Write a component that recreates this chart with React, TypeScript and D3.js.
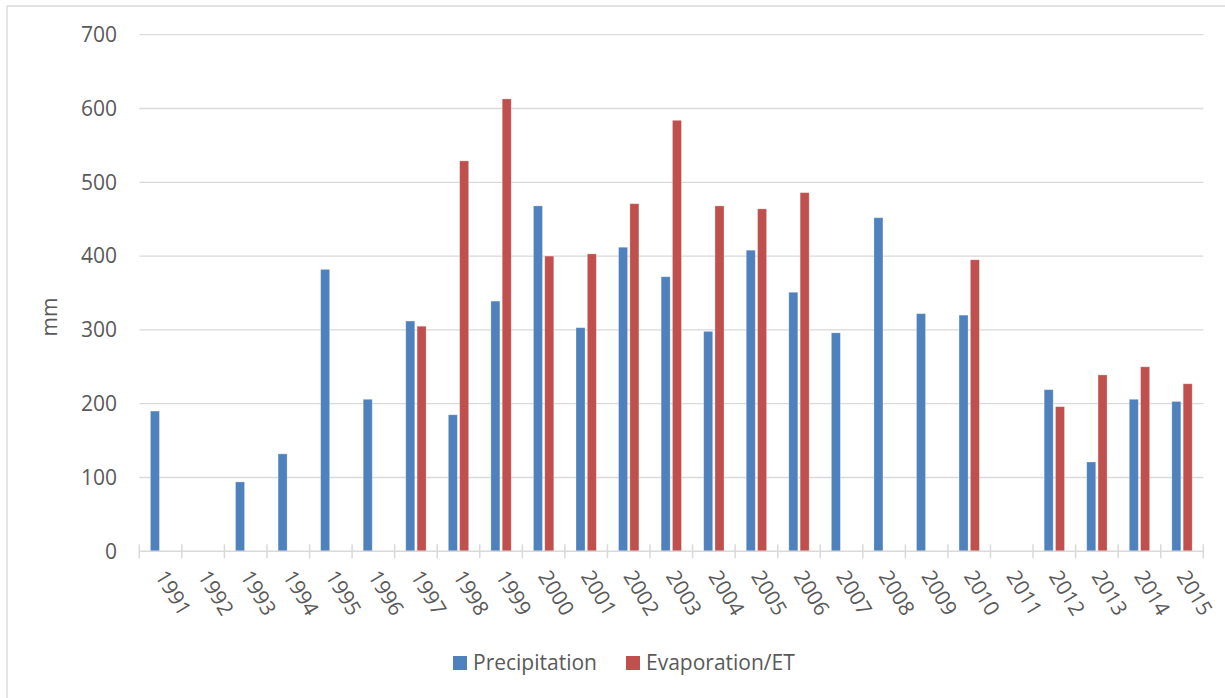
import React from "react";
import * as d3 from "d3";

const years = ["1991","1992","1993","1994","1995","1996","1997","1998","1999","2000","2001","2002","2003","2004","2005","2006","2007","2008","2009","2010","2011","2012","2013","2014","2015"];
const precipitation: (number | null)[] = [190,null,94,132,382,206,312,185,339,468,303,412,372,298,408,351,296,452,322,320,null,219,121,206,203];
const evaporation: (number | null)[] = [null,null,null,null,null,null,305,529,613,400,403,471,584,468,464,486,null,null,null,395,null,196,239,250,227];
const yTicks = [0,100,200,300,400,500,600,700];
const seriesNames = ["Precipitation", "Evaporation/ET"];
const colors = ["#4F81BD", "#C0504D"];

const W = 1225, H = 698;
const left = 139.3, right = 1203.3, top = 34.7, bottom = 551.3;
const FONT = "'Open Sans', sans-serif";
const TXT = "#595959";
const GRID = "#D9D9D9";

export default function App() {
  const x = d3.scaleBand<string>().domain(years).range([left, right]).padding(0);
  const y = d3.scaleLinear().domain([0, 700]).range([bottom, top]);
  const bw = x.bandwidth();
  const barW = bw * 0.212;
  const gap = bw * 0.054;
  const series = [precipitation, evaporation];

  return (
    <svg width={W} height={H} style={{ position: "absolute", left: 0, top: 0, background: "#fff" }} fontFamily={FONT}>
      <rect x={0} y={0} width={W} height={H} fill="#fff" />
      <line x1={7} y1={6} x2={W} y2={6} stroke={GRID} strokeWidth={1.3} />
      <line x1={7} y1={6} x2={7} y2={H} stroke={GRID} strokeWidth={1.3} />
      {yTicks.map((t) => (
        <g key={t}>
          {t > 0 && <line x1={left} x2={right} y1={y(t)} y2={y(t)} stroke={GRID} strokeWidth={1.3} />}
          <text x={117} y={y(t)} dy="0.35em" textAnchor="end" fontSize={21} fill={TXT}>{t}</text>
        </g>
      ))}
      {series.map((vals, si) =>
        vals.map((v, i) => {
          if (v == null) return null;
          const cx = (x(years[i]) as number) + bw / 2;
          const bx = si === 0 ? cx - gap / 2 - barW : cx + gap / 2;
          return (
            <rect key={`${si}-${i}`} x={bx} y={y(v)} width={barW} height={y(0) - y(v)}
              fill={colors[si]} stroke="#ffffff" strokeOpacity={0.35} strokeWidth={0.8} />
          );
        })
      )}
      <line x1={left} x2={right} y1={bottom} y2={bottom} stroke={GRID} strokeWidth={1.5} />
      {d3.range(years.length + 1).map((i) => {
        const tx = left + i * bw;
        return <line key={i} x1={tx} x2={tx} y1={bottom - 7} y2={bottom + 7} stroke={GRID} strokeWidth={1.5} />;
      })}
      {years.map((yr) => {
        const cx = (x(yr) as number) + bw / 2;
        return (
          <text key={yr} transform={`translate(${cx - 6},${576}) rotate(59)`} fontSize={21} fill={TXT}>
            {yr}
          </text>
        );
      })}
      <text transform={`translate(50,317) rotate(-90)`} textAnchor="middle" dy="0.35em" fontSize={21} fill={TXT}>mm</text>
      <g>
        <rect x={453} y={656} width={14} height={14} fill={colors[0]} />
        <text x={473} y={670} fontSize={21} fill={TXT}>{seriesNames[0]}</text>
        <rect x={626} y={656} width={14} height={14} fill={colors[1]} />
        <text x={646} y={670} fontSize={21} fill={TXT}>{seriesNames[1]}</text>
      </g>
    </svg>
  );
}
